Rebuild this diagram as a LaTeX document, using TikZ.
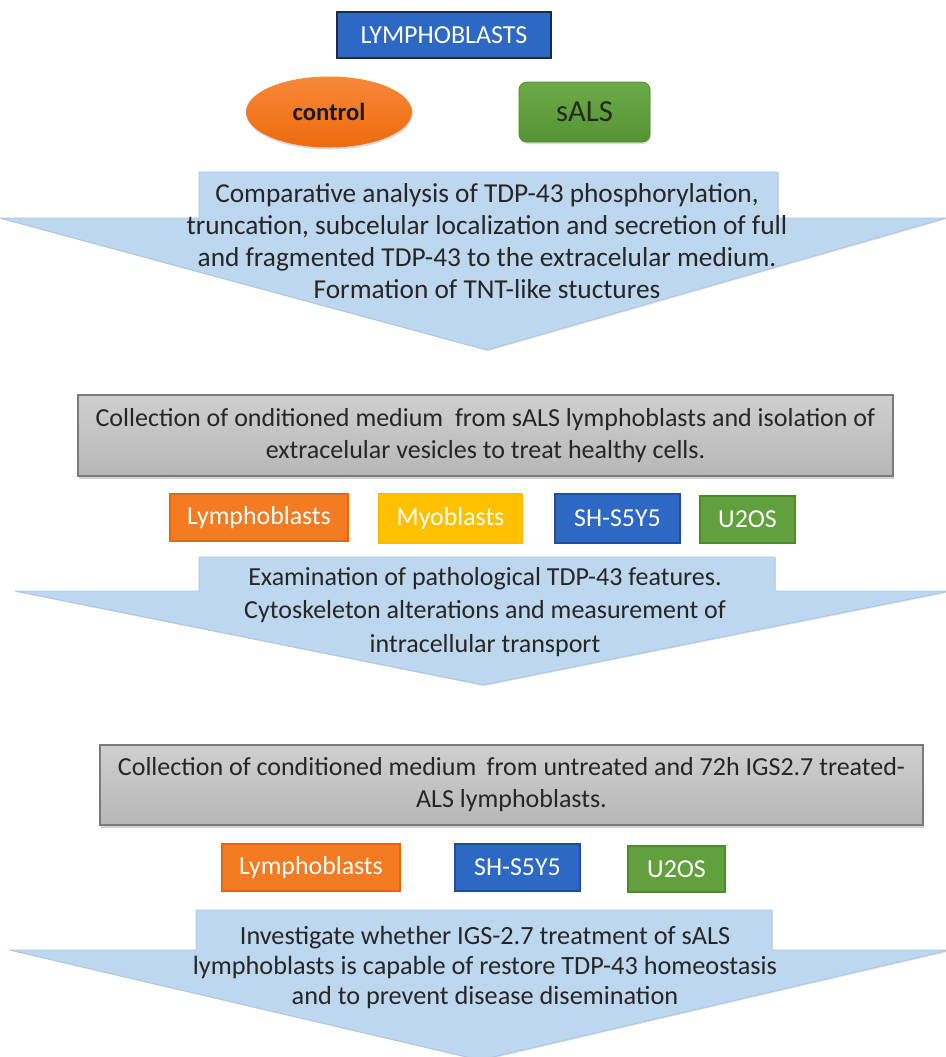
\documentclass[tikz,border=0pt]{standalone}
\usepackage{fontspec}
\setmainfont{Carlito}
\usetikzlibrary{shadows,shapes.geometric}
\definecolor{arrowblue}{HTML}{BDD7EE}
\definecolor{arrowedge}{HTML}{A9C6E2}
\definecolor{boxgraytop}{HTML}{CFCFCF}
\definecolor{boxgraybot}{HTML}{B7B7B7}
\definecolor{grayedge}{HTML}{7A7A7A}
\definecolor{txtdark}{HTML}{262626}
\definecolor{cellorange}{HTML}{F47B22}
\definecolor{cellorangeedge}{HTML}{E8650F}
\definecolor{ovaltop}{HTML}{F7893A}
\definecolor{ovalbot}{HTML}{EE6A0C}
\definecolor{cellyellow}{HTML}{FFC000}
\definecolor{cellblue}{HTML}{2D68C4}
\definecolor{cellblueedge}{HTML}{1F4E9E}
\definecolor{cellgreen}{HTML}{62A03E}
\definecolor{cellgreenedge}{HTML}{4E8A2E}
\definecolor{greentop}{HTML}{6DAA47}
\definecolor{greenbot}{HTML}{559434}
\definecolor{navy}{HTML}{1A2A50}
\begin{document}
\begin{tikzpicture}[x=0.75pt,y=-0.75pt,
  arrowshape/.style={fill=arrowblue, draw=arrowedge, line width=0.6pt, drop shadow={shadow xshift=0.8pt, shadow yshift=-0.8pt, opacity=0.25}},
  arrowtext/.style={text=txtdark, align=center, font=\fontsize{20.5}{24}\selectfont},
  graybox/.style={top color=boxgraytop, bottom color=boxgraybot, draw=grayedge, line width=1pt, align=center, text=txtdark, font=\fontsize{19.5}{24}\selectfont, drop shadow={shadow xshift=1pt, shadow yshift=-2.5pt, opacity=0.35}},
  cell/.style={text=white, font=\fontsize{19.4}{22}\selectfont, inner sep=0pt, line width=1pt},
]
\useasboundingbox (0,0) rectangle (946,1057);
\clip (0,0) rectangle (946,1057);

% top
\node[cell, fill=cellblue, draw=navy, font=\fontsize{19.5}{22}\selectfont, minimum width=160.5pt, minimum height=34.5pt] (lympho) at (444,35) {LYMPHOBLASTS};
\node[ellipse, top color=ovaltop, bottom color=ovalbot, draw=none, text=black!90, font=\fontsize{18.5}{22}\selectfont\bfseries, minimum width=124.5pt, minimum height=53.25pt, inner sep=0pt, drop shadow={shadow xshift=0.5pt, shadow yshift=-1.5pt, opacity=0.3}] (control) at (329,112) {control};
\node[rounded corners=6pt, top color=greentop, bottom color=greenbot, draw=cellgreenedge, line width=0.6pt, text=txtdark, font=\fontsize{23}{26}\selectfont, minimum width=98.25pt, minimum height=45pt, inner sep=0pt, drop shadow={shadow xshift=0.5pt, shadow yshift=-1.5pt, opacity=0.3}] (sals) at (584.5,112) {sALS};

% arrow 1
\path[arrowshape] (199,172) -- (778,172) -- (778,218) -- (946,218) -- (487,350) -- (0,218) -- (199,218) -- cycle;
\node[arrowtext] (t1) at (487,241) {Comparative analysis of TDP-43 phosphorylation,\\truncation, subcelular localization and secretion of full\\and fragmented TDP-43 to the extracelular medium.\\Formation of TNT-like stuctures};

% gray box 1
\node[graybox, minimum width=611.25pt, minimum height=60.75pt] (g1) at (485.5,435.5) {Collection of onditioned medium \ from sALS lymphoblasts and isolation of\\extracelular vesicles to treat healthy cells.};

% cells row 1
\node[cell, fill=cellorange, draw=cellorangeedge, minimum width=133.5pt, minimum height=35.25pt] (c1a) at (259,517.5) {Lymphoblasts};
\node[cell, fill=cellyellow, draw=cellyellow!90!orange, minimum width=107.25pt, minimum height=36.75pt] (c1b) at (450.5,518.5) {Myoblasts};
\node[cell, fill=cellblue, draw=cellblueedge, minimum width=93.75pt, minimum height=36.75pt] (c1c) at (617.5,518.5) {SH-S5Y5};
\node[cell, fill=cellgreen, draw=cellgreenedge, minimum width=71.25pt, minimum height=35.25pt] (c1d) at (747.5,519.5) {U2OS};

% arrow 2
\path[arrowshape] (199,557) -- (775,557) -- (775,591) -- (950,591) -- (483,685) -- (15,591) -- (199,591) -- cycle;
\node[arrowtext, font=\fontsize{19.5}{25}\selectfont] (t2) at (485,612) {Examination of pathological TDP-43 features.\\Cytoskeleton alterations and measurement of\\intracellular transport};

% gray box 2
\node[graybox, minimum width=617.25pt, minimum height=60pt] (g2) at (511.5,785) {Collection of conditioned medium \,from untreated and 72h IGS2.7 treated-\\ALS lymphoblasts.};

% cells row 2
\node[cell, fill=cellorange, draw=cellorangeedge, minimum width=133.5pt, minimum height=35.25pt] (c2a) at (311,867.5) {Lymphoblasts};
\node[cell, fill=cellblue, draw=cellblueedge, minimum width=93.75pt, minimum height=35.25pt] (c2b) at (517.5,867.5) {SH-S5Y5};
\node[cell, fill=cellgreen, draw=cellgreenedge, minimum width=72.75pt, minimum height=34.5pt] (c2c) at (676.5,869) {U2OS};

% arrow 3
\path[arrowshape] (196,910) -- (772,910) -- (772,950) -- (950,950) -- (480,1060) -- (10,950) -- (196,950) -- cycle;
\node[arrowtext, font=\fontsize{19.7}{22.5}\selectfont] (t3) at (485,967) {Investigate whether IGS-2.7 treatment of sALS\\lymphoblasts is capable of restore TDP-43 homeostasis\\and to prevent disease disemination};
\end{tikzpicture}
\end{document}
